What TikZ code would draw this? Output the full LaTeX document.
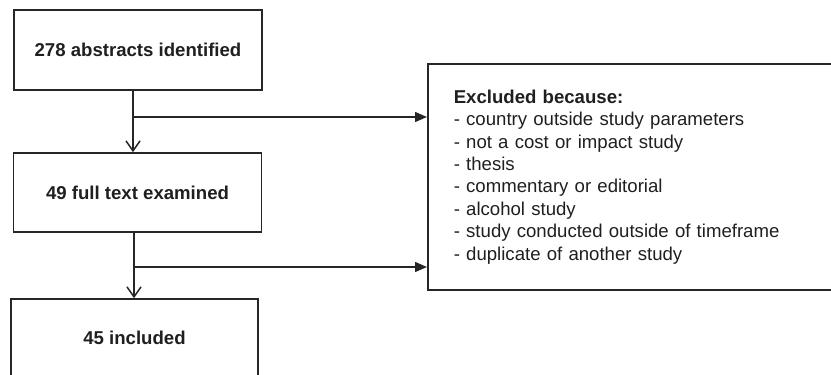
\documentclass[tikz,border=0pt]{standalone}
\usepackage{fontspec}
\setmainfont{Liberation Sans}
\usetikzlibrary{arrows.meta}

\tikzset{
	stagebox/.style={draw=black!85, line width=1.6pt, minimum width=248pt, minimum height=80pt, inner sep=0pt, text=black!88, font=\fontsize{18.6pt}{22.4pt}\selectfont\bfseries},
	reasonbox/.style={draw=black!85, line width=1.6pt, text width=368pt, inner xsep=26pt, inner ysep=0pt, minimum height=226pt, align=left, text=black!88, font=\fontsize{18.6pt}{22.4pt}\selectfont},
	downarrow/.style={line width=1.5pt, draw=black!85, -{Straight Barb[length=10pt, width=14pt, line width=1.5pt]}},
	sidearrow/.style={line width=1.5pt, draw=black!85, -{Triangle[length=12pt, width=10pt]}}
}

\begin{document}
\begin{tikzpicture}[x=1pt, y=-1pt]
			%%%%% START %%%%%
			\useasboundingbox (0, 0) rectangle (831, 375);
			\clip (0, 0) rectangle (831, 375);
			
			\node[stagebox] (abstracts) at (138, 50) {278 abstracts identified};
			\node[stagebox, minimum height=79pt] (fulltext) at (137.5, 192.5) {49 full text examined};
			\node[stagebox, minimum width=247pt, minimum height=78pt] (included) at (134.5, 338) {45 included};
			
			\node[reasonbox, anchor=north west] (excluded) at (427, 63) {\textbf{Excluded because:}\\
				- country outside study parameters\\
				- not a cost or impact study\\
				- thesis\\
				- commentary or editorial\\
				- alcohol study\\
				- study conducted outside of timeframe\\
				- duplicate of another study};
			
			\coordinate (split1) at (133, 117);
			\coordinate (split2) at (134, 267);
			
			\draw[downarrow] (abstracts.south -| split1) -- (fulltext.north -| split1);
			\draw[sidearrow] (split1) -- (excluded.west |- split1);
			
			\draw[downarrow] (fulltext.south -| split2) -- (included.north -| split2);
			\draw[sidearrow] (split2) -- (excluded.west |- split2);
			
			%%%%% END %%%%%
\end{tikzpicture}
\end{document}
